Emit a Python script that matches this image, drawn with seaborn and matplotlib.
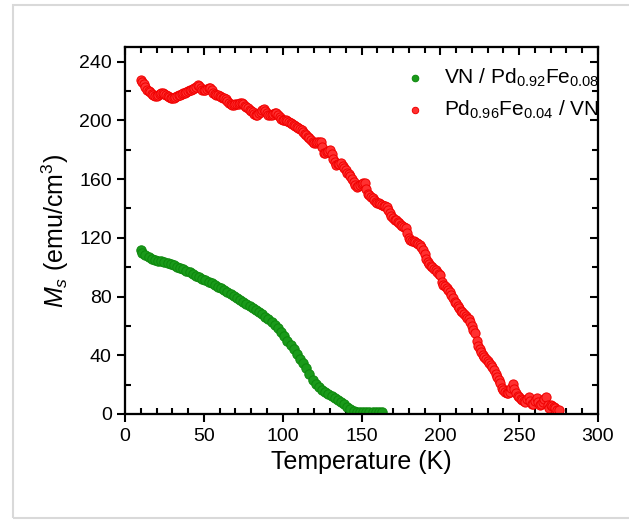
import numpy as np
import pandas as pd
import matplotlib
matplotlib.use("Agg")
import matplotlib.pyplot as plt
from matplotlib.patches import Rectangle
from matplotlib.ticker import MultipleLocator
import seaborn as sns

# green sample : VN / Pd0.92Fe0.08
t_green = [10, 11, 13, 15, 17, 19, 21, 23, 25, 27, 29, 31, 33, 35, 37, 39, 41, 43, 45, 47,
           49, 51, 53, 55, 57, 59, 61, 63, 65, 67, 69, 71, 73, 75, 77, 79, 81, 83, 85, 87,
           89, 91, 93, 95, 97, 99, 101, 103, 105, 107, 109, 111, 113, 115, 117, 119, 121, 123, 125, 127,
           129, 131, 133, 135, 137, 139, 141, 143, 145, 147, 149, 151, 153, 155, 157, 159, 161, 163]
m_green = [111.5, 110, 108.3, 107, 105.8, 105.2, 104.5, 104, 103.5, 102.8, 102, 101.3, 100.3, 99.4, 98.6, 97.5, 96.4, 95.4, 94.3, 93,
           92, 91.2, 90.2, 89.2, 88, 86.8, 85.6, 84.5, 83, 81.5, 80.3, 79, 77.8, 76.5, 75.2, 73.8, 72.2, 70.8, 69.4, 67.8,
           66.3, 64.5, 62.7, 60.8, 58.8, 56, 53, 50, 47.2, 44.5, 41, 37.8, 34.5, 31, 27, 23.5, 20.5, 18.5, 16.6, 15,
           13.5, 12.3, 11, 9.8, 8.2, 6.8, 5, 3.3, 2, 1.6, 1.5, 1.6, 1.7, 1.6, 1.5, 1.6, 1.5, 1.4]

# red sample : Pd0.96Fe0.04 / VN  (read every 1 K)
t_red = [10, 11, 12, 13, 14, 15, 16, 17, 18, 19, 20, 21, 22, 23, 24, 25, 26, 27, 28, 29,
         30, 31, 32, 33, 34, 35, 36, 37, 38, 39, 40, 41, 42, 43, 44, 45, 46, 47, 48, 49,
         50, 51, 52, 53, 54, 55, 56, 57, 58, 59, 60, 61, 62, 63, 64, 65, 66, 67, 68, 69,
         70, 71, 72, 73, 74, 75, 76, 77, 78, 79, 80, 81, 82, 83, 84, 85, 86, 87, 88, 89,
         90, 91, 92, 93, 94, 95, 96, 97, 98, 99, 100, 101, 102, 103, 104, 105, 106, 107, 108, 109,
         110, 111, 112, 113, 114, 115, 116, 117, 118, 119, 120, 121, 122, 123, 124, 125, 126, 127, 128, 129,
         130, 131, 132, 133, 134, 135, 136, 137, 138, 139, 140, 141, 142, 143, 144, 145, 146, 147, 148, 149,
         150, 151, 152, 153, 154, 155, 156, 157, 158, 159, 160, 161, 162, 163, 164, 165, 166, 167, 168, 169,
         170, 171, 172, 173, 174, 175, 176, 177, 178, 179, 180, 181, 182, 183, 184, 185, 186, 187, 188, 189,
         190, 191, 192, 193, 194, 195, 196, 197, 198, 199, 200, 201, 202, 203, 204, 205, 206, 207, 208, 209,
         210, 211, 212, 213, 214, 215, 216, 217, 218, 219, 220, 221, 222, 223, 224, 225, 226, 227, 228, 229,
         230, 231, 232, 233, 234, 235, 236, 237, 238, 239, 240, 241, 242, 243, 244, 245, 246, 247, 248, 249,
         250, 251, 252, 253, 254, 255, 256, 257, 258, 259, 260, 261, 262, 263, 264, 265, 266, 267, 268, 269,
         270, 271, 272, 273, 274, 275]
m_red = [227.5, 226, 225, 223, 221, 220, 219.5, 218, 217, 216.5, 216.6, 217.5, 218, 218.4, 218.4, 217.8, 217, 216.5, 216, 215.5,
         215, 215.5, 216, 216.8, 217.3, 217.6, 218, 218.5, 219, 219.5, 220, 220.7, 221, 221.5, 222, 223, 224, 223.5, 222, 221,
         220.7, 221, 221.5, 221.8, 221.9, 220.5, 219, 218, 217.3, 217, 216.5, 216, 215.5, 215, 214.5, 213, 212, 211, 210.5, 210.5,
         211, 211.3, 211.5, 211.6, 211.6, 211, 210, 209, 208.2, 207.4, 206.5, 205.5, 204.5, 204, 203.7, 204.8, 206, 207, 207.6, 206.5,
         205, 204, 203.7, 203.7, 204.5, 205, 205.3, 204, 202, 201, 200.5, 200.3, 200, 199.5, 199.1, 198.3, 197.5, 196.8, 196, 195.3,
         194.6, 194, 193.5, 192.3, 191, 190, 189, 187.8, 186.5, 185, 184.4, 184.7, 185, 185.3, 185.5, 182, 178, 177.6, 178.5, 179,
         179.8, 177, 174, 171.5, 169.6, 170, 170.5, 170.8, 169, 167.5, 166, 164.5, 163.5, 162, 160, 158, 156, 154.8, 155, 156,
         157, 157.2, 157.2, 153, 150, 149.2, 148, 147, 146, 144.5, 143.5, 143.5, 143, 142.5, 142, 141.5, 141.2, 139, 137, 135,
         133.5, 132.2, 132, 131, 130, 129, 128, 127.6, 126.5, 123, 120, 118.5, 118, 117.8, 117.5, 116.8, 116, 115, 114, 112,
         109, 105.5, 103.7, 102.5, 101, 100, 99, 98, 97, 95.5, 94.5, 90, 88, 87, 86, 84.5, 83.3, 81, 79, 76.5,
         75.4, 73.5, 72, 70.5, 69.5, 68, 67, 65.5, 64.5, 62.5, 60, 57.5, 55, 50, 46, 44, 42.5, 40.5, 39, 37.5,
         36, 34.8, 33.5, 31.8, 30, 27.5, 25.5, 23.5, 21, 18, 16.3, 15, 14.5, 14.1, 15, 17.5, 20.5, 17, 14, 12.5,
         11.8, 10.5, 9.5, 9, 8.4, 10, 11.8, 9, 7, 6.5, 9, 10.7, 8, 6.1, 7, 8, 10, 11.8, 6, 4,
         6, 5.5, 5, 4, 3, 2.7]

x_ticks = [0, 50, 100, 150, 200, 250, 300]
y_ticks = [0, 40, 80, 120, 160, 200, 240]

sns.set_style("ticks")
plt.rcParams['font.family'] = ['Liberation Sans', 'DejaVu Sans']
plt.rcParams['mathtext.fontset'] = 'custom'
plt.rcParams['mathtext.rm'] = 'Liberation Sans'
plt.rcParams['mathtext.it'] = 'Liberation Sans:italic'
plt.rcParams['text.color'] = 'black'
plt.rcParams['axes.labelcolor'] = 'black'
plt.rcParams['axes.edgecolor'] = 'black'
plt.rcParams['xtick.color'] = 'black'
plt.rcParams['ytick.color'] = 'black'

df_g = pd.DataFrame({'T': t_green, 'M': m_green})
df_r = pd.DataFrame({'T': t_red, 'M': m_red})

fig = plt.figure(figsize=(6.29, 5.21), dpi=100)
ax = fig.add_axes([125/629, 1-414/521, 473/629, 367/521])

sns.scatterplot(data=df_g, x='T', y='M', ax=ax, color='#1a9a1a', edgecolor='#0c870c',
                linewidth=0.7, s=46, label='VN / Pd$_{0.92}$Fe$_{0.08}$', zorder=3)
sns.scatterplot(data=df_r, x='T', y='M', ax=ax, color='#ff3030', edgecolor='#f00000',
                linewidth=0.7, s=44, label='Pd$_{0.96}$Fe$_{0.04}$ / VN', zorder=3)

ax.set_xlim(0, 300)
ax.set_ylim(0, 250)
ax.set_xticks(x_ticks)
ax.set_yticks(y_ticks)
ax.xaxis.set_minor_locator(MultipleLocator(10))
ax.yaxis.set_minor_locator(MultipleLocator(20))
ax.xaxis.set_ticks_position('bottom')
ax.yaxis.set_ticks_position('left')
ax.tick_params(which='major', direction='out', length=6, width=1.5, labelsize=14, color='black')
ax.tick_params(which='minor', direction='in', length=4, width=1.5, color='black')
ax.tick_params(axis='x', pad=4)
for sp in ax.spines.values():
    sp.set_visible(True)
    sp.set_linewidth(1.5)
    sp.set_color('black')

# twin axes for the inward ticks on top / right
axt = ax.twiny()
axt.set_xlim(0, 300)
axt.set_xticks(x_ticks)
axt.xaxis.set_minor_locator(MultipleLocator(10))
axt.tick_params(which='both', direction='in', labeltop=False, width=1.5, color='black')
axt.tick_params(which='major', length=6)
axt.tick_params(which='minor', length=4)
axr = ax.twinx()
axr.set_ylim(0, 250)
axr.set_yticks(y_ticks)
axr.yaxis.set_minor_locator(MultipleLocator(20))
axr.tick_params(which='both', direction='in', labelright=False, width=1.5, color='black')
axr.tick_params(which='major', length=6)
axr.tick_params(which='minor', length=4)
for a in (axt, axr):
    for sp in a.spines.values():
        sp.set_linewidth(1.5)
        sp.set_color('black')

ax.set_xlabel('Temperature (K)', fontsize=18, labelpad=4)
ax.set_ylabel('$M_s$ (emu/cm$^3$)', fontsize=18, labelpad=6)

leg = ax.legend(loc='upper left', bbox_to_anchor=(0.53, 0.997), frameon=False, fontsize=15,
                markerscale=0.7, handletextpad=0.4, labelspacing=0.45)
leg.set_zorder(5)

fig.patches.append(Rectangle((13/629, 1-518/521), 0.99, 513/521, transform=fig.transFigure,
                             fill=False, edgecolor='#d9d9d9', linewidth=1.5))

fig.savefig('out.png', dpi=100)
